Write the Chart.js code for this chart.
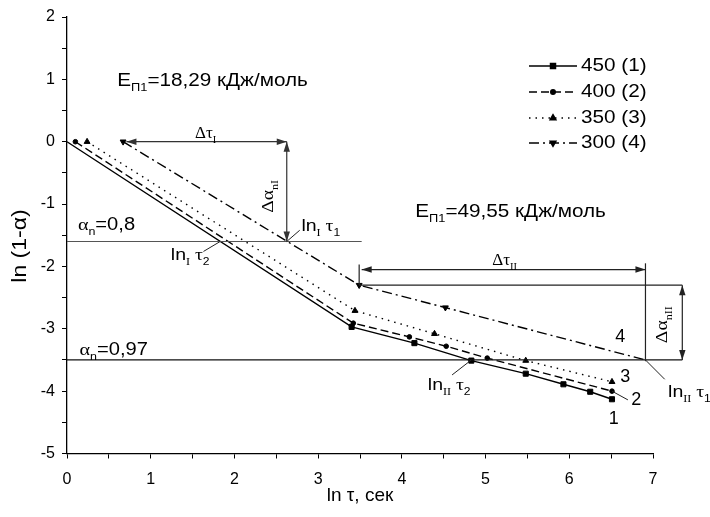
<!DOCTYPE html>
<html>
<head>
<meta charset="utf-8">
<script src="https://cdn.jsdelivr.net/npm/chart.js@4.4.1/dist/chart.umd.min.js"></script>
<style>
  html, body { margin: 0; padding: 0; background: #fff; }
  #wrap { width: 710px; height: 517px; }
</style>
</head>
<body>
<div id="wrap"><canvas id="kineticsChart" width="710" height="517"></canvas></div>
<script>
// ln(tau) and ln(1-alpha) for each temperature
const lnTau450 = [0, 3.40, 4.15, 4.83, 5.48, 5.93, 6.25, 6.51];
const lnA450   = [0, -2.97, -3.23, -3.51, -3.72, -3.89, -4.01, -4.13];
const lnTau400 = [0.10, 3.42, 4.09, 4.53, 5.02, 6.51];
const lnA400   = [0, -2.91, -3.13, -3.28, -3.47, -4.00];
const lnTau350 = [0.24, 3.44, 4.39, 5.48, 6.51];
const lnA350   = [0, -2.71, -3.08, -3.51, -3.85];
const lnTau300 = [0.67, 3.49, 4.52, 6.91];
const lnA300   = [0, -2.30, -2.66, -3.50];

const seriesLabels = ['450 (1)', '400 (2)', '350 (3)', '300 (4)'];
const xTicks = [0, 1, 2, 3, 4, 5, 6, 7];
const yTicks = [-5, -4, -3, -2, -1, 0, 1, 2];

const SANS = '"Liberation Sans", Arial, sans-serif';
const SERIF = '"Liberation Serif", "Times New Roman", serif';
const STRETCH = 1.15; // labels are set a bit wider than the stock face

Chart.defaults.font.family = SANS;
Chart.defaults.color = '#000';

function toPoints(xs, ys) {
    return xs.map((x, i) => ({ x: x, y: ys[i] }));
}

function line(ctx, x1, y1, x2, y2, color, width) {
    ctx.strokeStyle = color;
    ctx.lineWidth = width || 1.2;
    ctx.setLineDash([]);
    ctx.beginPath();
    ctx.moveTo(x1, y1);
    ctx.lineTo(x2, y2);
    ctx.stroke();
}

function head(ctx, fx, fy, tx, ty, color) {
    const a = Math.atan2(ty - fy, tx - fx);
    const L = 10, W = 3.2;
    ctx.fillStyle = color;
    ctx.beginPath();
    ctx.moveTo(tx, ty);
    ctx.lineTo(tx - L * Math.cos(a) + W * Math.sin(a), ty - L * Math.sin(a) - W * Math.cos(a));
    ctx.lineTo(tx - L * Math.cos(a) - W * Math.sin(a), ty - L * Math.sin(a) + W * Math.cos(a));
    ctx.closePath();
    ctx.fill();
}

function arrow(ctx, x1, y1, x2, y2, color) {
    line(ctx, x1, y1, x2, y2, color, 1.2);
    head(ctx, x1, y1, x2, y2, color);
    head(ctx, x2, y2, x1, y1, color);
}

// text with subscripts: parts = [[text, isSub, family]]
function rich(ctx, parts, x, y, size, sx) {
    let cx = 0;
    ctx.save();
    ctx.translate(x, y);
    ctx.scale(sx || STRETCH, 1);
    ctx.fillStyle = '#000';
    ctx.textBaseline = 'alphabetic';
    ctx.textAlign = 'left';
    for (const [t, sub, fam] of parts) {
        const s = sub ? size * 0.62 : size;
        ctx.font = s + 'px ' + (fam || SANS);
        ctx.fillText(t, cx, sub ? size * 0.28 : 0);
        cx += ctx.measureText(t).width;
    }
    ctx.restore();
}

const notesPlugin = {
    id: 'kineticsNotes',
    afterDraw(chart) {
        const ctx = chart.ctx;
        const X = v => chart.scales.x.getPixelForValue(v);
        const Y = v => chart.scales.y.getPixelForValue(v);
        ctx.save();

        // y axis title
        ctx.save();
        ctx.translate(20, 246);
        ctx.rotate(-Math.PI / 2);
        ctx.scale(STRETCH, 1);
        ctx.font = '20px ' + SANS;
        ctx.textAlign = 'center';
        ctx.textBaseline = 'middle';
        ctx.fillStyle = '#000';
        ctx.fillText('ln (1-α)', 0, 0);
        ctx.restore();

        // alpha_n levels
        line(ctx, X(0), Y(-1.6), X(3.52), Y(-1.6), '#555', 1.2);
        line(ctx, X(0), Y(-3.5), X(7.35), Y(-3.5), '#111', 1.2);

        // first stage: delta tau and delta alpha
        arrow(ctx, X(0.71), Y(0), X(2.625), Y(0), '#333');
        arrow(ctx, X(2.625), Y(0), X(2.625), Y(-1.6), '#333');

        // second stage
        arrow(ctx, X(3.52), Y(-2.05), X(6.91), Y(-2.05), '#222');
        line(ctx, X(3.49), Y(-1.97), X(3.49), Y(-2.30), '#222', 1.2);
        line(ctx, X(6.91), Y(-1.95), X(6.91), Y(-3.52), '#222', 1.2);
        line(ctx, X(3.49), Y(-2.30), X(7.35), Y(-2.30), '#222', 1.2);
        arrow(ctx, X(7.35), Y(-2.30), X(7.35), Y(-3.5), '#222');

        // leader lines
        line(ctx, X(2.625), Y(-1.6), X(2.78), Y(-1.42), '#222', 1);
        line(ctx, X(1.83), Y(-1.6), X(1.63), Y(-1.76), '#222', 1);
        line(ctx, X(4.83), Y(-3.5), X(4.60), Y(-3.74), '#222', 1);
        line(ctx, X(6.91), Y(-3.5), X(7.14), Y(-3.81), '#222', 1);
        line(ctx, X(6.51), Y(-4.00), X(6.70), Y(-4.14), '#222', 1);

        // activation energies
        rich(ctx, [['E'], ['П1', true], ['=18,29 кДж/моль']], X(0.60), Y(0.89), 18);
        rich(ctx, [['E'], ['П1', true], ['=49,55 кДж/моль']], X(4.16), Y(-1.21), 18);

        // alpha_n labels
        rich(ctx, [['α', false, SERIF], ['n', true], ['=0,8']], X(0.13), Y(-1.42), 17.5);
        rich(ctx, [['α', false, SERIF], ['n', true], ['=0,97']], X(0.15), Y(-3.42), 17.5);

        // delta tau labels
        rich(ctx, [['Δτ', false, SERIF], ['I', true, SERIF]], X(1.53), Y(0.06), 17, 1);
        rich(ctx, [['Δτ', false, SERIF], ['II', true, SERIF]], X(5.08), Y(-1.98), 17, 1);

        // rotated delta alpha labels
        [[2.46, -1.14, 'I'], [7.17, -3.23, 'II']].forEach(([vx, vy, idx]) => {
            ctx.save();
            ctx.translate(X(vx), Y(vy));
            ctx.rotate(-Math.PI / 2);
            rich(ctx, [['Δα', false, SERIF], ['n' + idx, true, SERIF]], 0, 0, 17);
            ctx.restore();
        });

        // ln tau markers
        rich(ctx, [['ln'], ['I', true, SERIF], [' τ', false, SERIF], ['1', true]], X(2.80), Y(-1.435), 17);
        rich(ctx, [['ln'], ['I', true, SERIF], [' τ', false, SERIF], ['2', true]], X(1.24), Y(-1.90), 17);
        rich(ctx, [['ln'], ['II', true, SERIF], [' τ', false, SERIF], ['2', true]], X(4.31), Y(-3.98), 17);
        rich(ctx, [['ln'], ['II', true, SERIF], [' τ', false, SERIF], ['1', true]], X(7.18), Y(-4.09), 17);

        // curve numbers
        ctx.font = '18px ' + SANS;
        ctx.textAlign = 'center';
        ctx.textBaseline = 'middle';
        ctx.fillStyle = '#000';
        [['4', 6.61, -3.14], ['3', 6.67, -3.77], ['2', 6.80, -4.15], ['1', 6.53, -4.44]].forEach(([t, vx, vy]) => {
            ctx.fillText(t, X(vx), Y(vy));
        });

        // legend
        const lx1 = 529, lx2 = 577, rowY = [66, 92, 118, 143];
        chart.data.datasets.forEach((ds, i) => {
            const y = rowY[i];
            ctx.strokeStyle = '#000';
            ctx.lineWidth = ds.borderWidth;
            ctx.setLineDash(ds.borderDash || []);
            ctx.beginPath();
            ctx.moveTo(lx1, y);
            ctx.lineTo(lx2, y);
            ctx.stroke();
            ctx.setLineDash([]);
            ctx.fillStyle = '#000';
            const r = Array.isArray(ds.pointRadius) ? ds.pointRadius[1] : ds.pointRadius;
            Chart.helpers.drawPoint(ctx, {
                pointStyle: ds.pointStyle,
                radius: r,
                rotation: ds.pointRotation || 0,
                borderWidth: 1
            }, (lx1 + lx2) / 2, y);
            ctx.save();
            ctx.translate(lx2 + 4, y);
            ctx.scale(STRETCH, 1);
            ctx.font = '18px ' + SANS;
            ctx.textAlign = 'left';
            ctx.textBaseline = 'middle';
            ctx.fillStyle = '#000';
            ctx.fillText(ds.label, 0, 0);
            ctx.restore();
        });

        ctx.restore();
    }
};

const ctx = document.getElementById('kineticsChart').getContext('2d');

const baseSet = {
    borderColor: '#000',
    backgroundColor: '#000',
    pointBackgroundColor: '#000',
    pointBorderColor: '#000',
    pointBorderWidth: 1,
    borderWidth: 1.4,
    showLine: true,
    fill: false,
    tension: 0
};

new Chart(ctx, {
    type: 'scatter',
    data: {
        datasets: [
            Object.assign({}, baseSet, {
                label: seriesLabels[0],
                data: toPoints(lnTau450, lnA450),
                pointStyle: 'rect',
                pointRadius: [0, 3.6, 3.6, 3.6, 3.6, 3.6, 3.6, 3.6]
            }),
            Object.assign({}, baseSet, {
                label: seriesLabels[1],
                data: toPoints(lnTau400, lnA400),
                borderDash: [8, 4],
                pointStyle: 'circle',
                pointRadius: 2.3
            }),
            Object.assign({}, baseSet, {
                label: seriesLabels[2],
                data: toPoints(lnTau350, lnA350),
                borderDash: [1.5, 5],
                pointStyle: 'triangle',
                pointRadius: 3.4
            }),
            Object.assign({}, baseSet, {
                label: seriesLabels[3],
                data: toPoints(lnTau300, lnA300),
                borderDash: [10, 4, 2, 4],
                pointStyle: 'triangle',
                pointRotation: 180,
                pointRadius: [3.4, 3.4, 3.4, 0]
            })
        ]
    },
    options: {
        responsive: false,
        animation: false,
        layout: { padding: { top: 17, right: 57, bottom: 0, left: 0 } },
        plugins: {
            legend: { display: false },
            tooltip: { enabled: false }
        },
        scales: {
            x: {
                type: 'linear',
                min: xTicks[0],
                max: xTicks[xTicks.length - 1],
                afterFit: scale => { scale.height = 63.5; },
                border: { display: true, color: '#000', width: 1.3 },
                grid: { drawOnChartArea: false, drawTicks: true, tickLength: 5, color: '#000' },
                ticks: {
                    stepSize: 0.5,
                    autoSkip: false,
                    maxRotation: 0,
                    padding: 11,
                    font: { size: 16 },
                    color: '#000',
                    callback: v => xTicks.includes(v) ? String(v) : ''
                },
                title: {
                    display: true,
                    text: 'ln τ, сек',
                    font: { size: 19 },
                    color: '#000',
                    padding: { top: 0, bottom: 10 }
                }
            },
            y: {
                type: 'linear',
                min: yTicks[0],
                max: yTicks[yTicks.length - 1],
                afterFit: scale => { scale.width = 67; },
                border: { display: true, color: '#000', width: 1.3 },
                grid: { drawOnChartArea: false, drawTicks: true, tickLength: 5, color: '#000' },
                ticks: {
                    stepSize: 0.5,
                    autoSkip: false,
                    padding: 7,
                    font: { size: 16 },
                    color: '#000',
                    callback: v => yTicks.includes(v) ? String(v) : ''
                },
                title: { display: false }
            }
        }
    },
    plugins: [notesPlugin]
});
</script>
</body>
</html>
